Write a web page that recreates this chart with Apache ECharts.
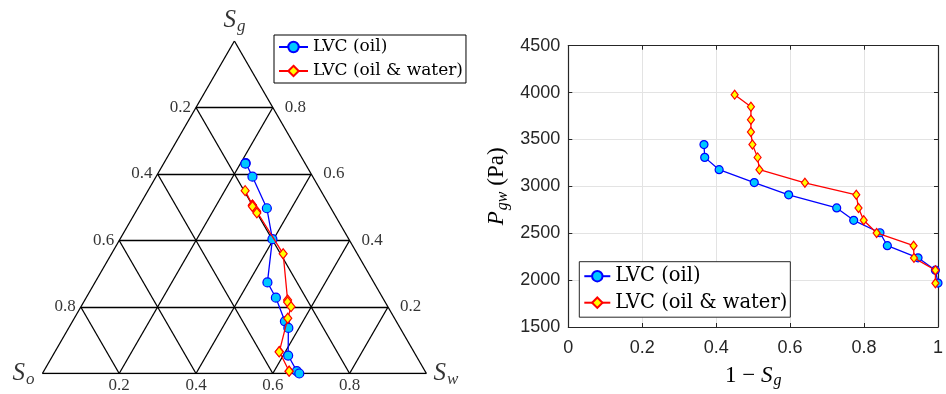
<!DOCTYPE html>
<html><head><meta charset="utf-8">
<script src="https://cdn.jsdelivr.net/npm/echarts@6/dist/echarts.min.js"></script>
<style>html,body{margin:0;padding:0;background:#fff}#c{width:946px;height:394px}</style>
</head><body><div id="c"></div>
<script>
// ---- data ----
const seriesNames = ['LVC (oil)', 'LVC (oil & water)'];
// LVC (oil)
const pressureOil   = [3446, 3309, 3178, 3040, 2910, 2770, 2638, 2505, 2367, 2238, 2106, 1968];
const oneMinusSgOil = [0.367, 0.369, 0.408, 0.503, 0.596, 0.726, 0.772, 0.843, 0.863, 0.946, 0.993, 1.000];
const swOil         = [0.213, 0.213, 0.251, 0.336, 0.397, 0.449, 0.494, 0.553, 0.572, 0.613, 0.659, 0.669];
// LVC (oil & water)
const pressureWater   = [3978, 3848, 3711, 3580, 3446, 3309, 3178, 3038, 2910, 2769, 2638, 2503, 2367, 2237, 2105, 1966];
const oneMinusSgWater = [0.450, 0.494, 0.494, 0.494, 0.498, 0.512, 0.517, 0.640, 0.779, 0.785, 0.799, 0.834, 0.934, 0.935, 0.993, 0.993];
const swWater         = [0.253, 0.294, 0.294, 0.294, 0.296, 0.314, 0.317, 0.447, 0.528, 0.531, 0.547, 0.556, 0.584, 0.584, 0.639, 0.639];
// ternary tick values
const ternaryTicks = [0.2, 0.4, 0.6, 0.8];
const ternaryTickLabels = ['0.2', '0.4', '0.6', '0.8'];

// ---- helpers ----
const H = Math.sqrt(3) / 2;
function tern(sg, sw) { return [sw + sg / 2, sg * H]; }
const ternOil = oneMinusSgOil.map((v, i) => tern(1 - v, swOil[i]));
const ternWater = oneMinusSgWater.map((v, i) => tern(1 - v, swWater[i]));
const pOil = oneMinusSgOil.map((v, i) => [v, pressureOil[i]]);
const pWater = oneMinusSgWater.map((v, i) => [v, pressureWater[i]]);

const segs = [
  { coords: [[0, 0], [1, 0]] }, { coords: [[1, 0], [0.5, H]] }, { coords: [[0.5, H], [0, 0]] }
];
ternaryTicks.forEach(k => {
  segs.push({ coords: [tern(k, 0), tern(k, 1 - k)] });
  segs.push({ coords: [tern(0, k), tern(1 - k, k)] });
  segs.push({ coords: [tern(0, 1 - k), tern(1 - k, 0)] });
});

const serif = 'Liberation Serif';
const tickFont = { fontFamily: serif, fontSize: 17, color: '#000' };
const labelPts = [];
ternaryTicks.forEach((k, i) => {
  labelPts.push({ value: tern(0, k), label: Object.assign({ formatter: ternaryTickLabels[i], position: 'bottom', distance: 4 }, tickFont) });
  labelPts.push({ value: tern(1 - k, 0), label: Object.assign({ formatter: ternaryTickLabels[i], position: 'left', distance: 5 }, tickFont) });
  labelPts.push({ value: tern(k, 1 - k), label: Object.assign({ formatter: ternaryTickLabels[i], position: 'right', distance: 12 }, tickFont) });
});
const vRich = {
  s: { fontFamily: serif, fontStyle: 'italic', fontSize: 25, color: '#000' },
  sub: { fontFamily: serif, fontStyle: 'italic', fontSize: 17, color: '#000', padding: [12, 0, 0, 1] }
};
labelPts.push({ value: [0.5, H], label: { formatter: '{s|S}{sub|g}', position: 'top', distance: 6, rich: vRich } });
labelPts.push({ value: [0, 0], label: { formatter: '{s|S}{sub|o}', position: 'left', distance: 8, rich: vRich } });
labelPts.push({ value: [1, 0], label: { formatter: '{s|S}{sub|w}', position: 'right', distance: 7, rich: vRich } });

const oilStyle = {
  symbol: 'circle', lineStyle: { color: '#0000ff', width: 1.3 },
  itemStyle: { color: '#00c8ff', borderColor: '#0000ff', borderWidth: 1.2 }
};
const waterStyle = {
  symbol: 'diamond', lineStyle: { color: '#ff0000', width: 1.3 },
  itemStyle: { color: '#ffff00', borderColor: '#ff0000', borderWidth: 1.2 }
};
const axisColor = '#262626';
const sansTick = { fontFamily: 'Liberation Sans', fontSize: 18, color: axisColor, formatter: v => String(v) };

const chart = echarts.init(document.getElementById('c'), null, { renderer: 'canvas' });
chart.setOption({
  animation: false,
  backgroundColor: '#fff',
  grid: [
    { left: 42.4, top: 41, width: 384, height: 332.5, show: false },
    { left: 568.3, top: 45.7, width: 371.7, height: 283.6, show: false }
  ],
  xAxis: [
    { gridIndex: 0, type: 'value', min: 0, max: 1, show: false },
    { gridIndex: 1, type: 'value', min: 0, max: 1, interval: 0.2,
      axisLine: { show: true, lineStyle: { color: axisColor, width: 1.2 } },
      axisTick: { show: true, inside: true, length: 4, lineStyle: { color: axisColor } },
      axisLabel: Object.assign({ margin: 12 }, sansTick),
      splitLine: { show: true, lineStyle: { color: '#e3e3e3', width: 1 } },
      name: '{n|1 \u2212 }{s|S}{sub|g}', nameLocation: 'middle', nameGap: 36,
      nameTextStyle: { rich: {
        n: { fontFamily: serif, fontSize: 23, color: '#000' },
        s: { fontFamily: serif, fontStyle: 'italic', fontSize: 23, color: '#000' },
        sub: { fontFamily: serif, fontStyle: 'italic', fontSize: 16, color: '#000', padding: [10, 0, 0, 1] }
      } } },
    { gridIndex: 1, type: 'value', min: 0, max: 1, interval: 0.2, position: 'top',
      axisLine: { show: true, onZero: false, lineStyle: { color: axisColor, width: 1.2 } },
      axisTick: { show: true, inside: true, length: 4, lineStyle: { color: axisColor } },
      axisLabel: { show: false }, splitLine: { show: false } }
  ],
  yAxis: [
    { gridIndex: 0, type: 'value', min: 0, max: H, show: false },
    { gridIndex: 1, type: 'value', min: 1500, max: 4500, interval: 500,
      axisLine: { show: true, onZero: false, lineStyle: { color: axisColor, width: 1.2 } },
      axisTick: { show: true, inside: true, length: 4, lineStyle: { color: axisColor } },
      axisLabel: Object.assign({ margin: 8 }, sansTick),
      splitLine: { show: true, lineStyle: { color: '#e3e3e3', width: 1 } },
      name: '{s|P}{sub|gw}{n| (Pa)}', nameLocation: 'middle', nameGap: 58, nameRotate: 90,
      nameTextStyle: { rich: {
        n: { fontFamily: serif, fontSize: 23, color: '#000' },
        s: { fontFamily: serif, fontStyle: 'italic', fontSize: 23, color: '#000' },
        sub: { fontFamily: serif, fontStyle: 'italic', fontSize: 16, color: '#000', padding: [10, 0, 0, 1] }
      } } },
    { gridIndex: 1, type: 'value', min: 1500, max: 4500, interval: 500, position: 'right',
      axisLine: { show: true, onZero: false, lineStyle: { color: axisColor, width: 1.2 } },
      axisTick: { show: true, inside: true, length: 4, lineStyle: { color: axisColor } },
      axisLabel: { show: false }, splitLine: { show: false } }
  ],
  legend: [
    { data: seriesNames, orient: 'vertical', left: 274, top: 35, itemWidth: 29, itemHeight: 13, itemGap: 4,
      padding: [2, 3, 2, 4], borderColor: '#000', borderWidth: 1, backgroundColor: '#fff',
      textStyle: { fontFamily: 'DejaVu Serif', fontSize: 17, color: '#000', lineHeight: 20 }, selectedMode: false },
    { data: seriesNames, orient: 'vertical', left: 579.3, top: 261.7, itemWidth: 26, itemHeight: 13, itemGap: 4.5,
      padding: [3.5, 3, 3.5, 4], borderColor: axisColor, borderWidth: 1, backgroundColor: '#fff',
      textStyle: { fontFamily: 'DejaVu Serif', fontSize: 19.5, color: '#000', lineHeight: 22 }, selectedMode: false }
  ],
  series: [
    { type: 'lines', coordinateSystem: 'cartesian2d', xAxisIndex: 0, yAxisIndex: 0, data: segs,
      lineStyle: { color: '#000', width: 1.3, opacity: 1 }, silent: true, z: 1 },
    { type: 'scatter', xAxisIndex: 0, yAxisIndex: 0, data: labelPts, symbolSize: 0, silent: true,
      label: { show: true }, z: 2 },
    Object.assign({ name: seriesNames[0], type: 'line', xAxisIndex: 0, yAxisIndex: 0, data: ternOil,
      symbolSize: 9, clip: false, z: 3 }, oilStyle),
    Object.assign({ name: seriesNames[1], type: 'line', xAxisIndex: 0, yAxisIndex: 0, data: ternWater,
      symbolSize: [8, 10], clip: false, z: 4 }, waterStyle),
    Object.assign({ name: seriesNames[0], type: 'line', xAxisIndex: 1, yAxisIndex: 1, data: pOil,
      symbolSize: 8, clip: false, z: 3 }, oilStyle),
    Object.assign({ name: seriesNames[1], type: 'line', xAxisIndex: 1, yAxisIndex: 1, data: pWater,
      symbolSize: [7, 9], clip: false, z: 4 }, waterStyle)
  ]
});
</script></body></html>
